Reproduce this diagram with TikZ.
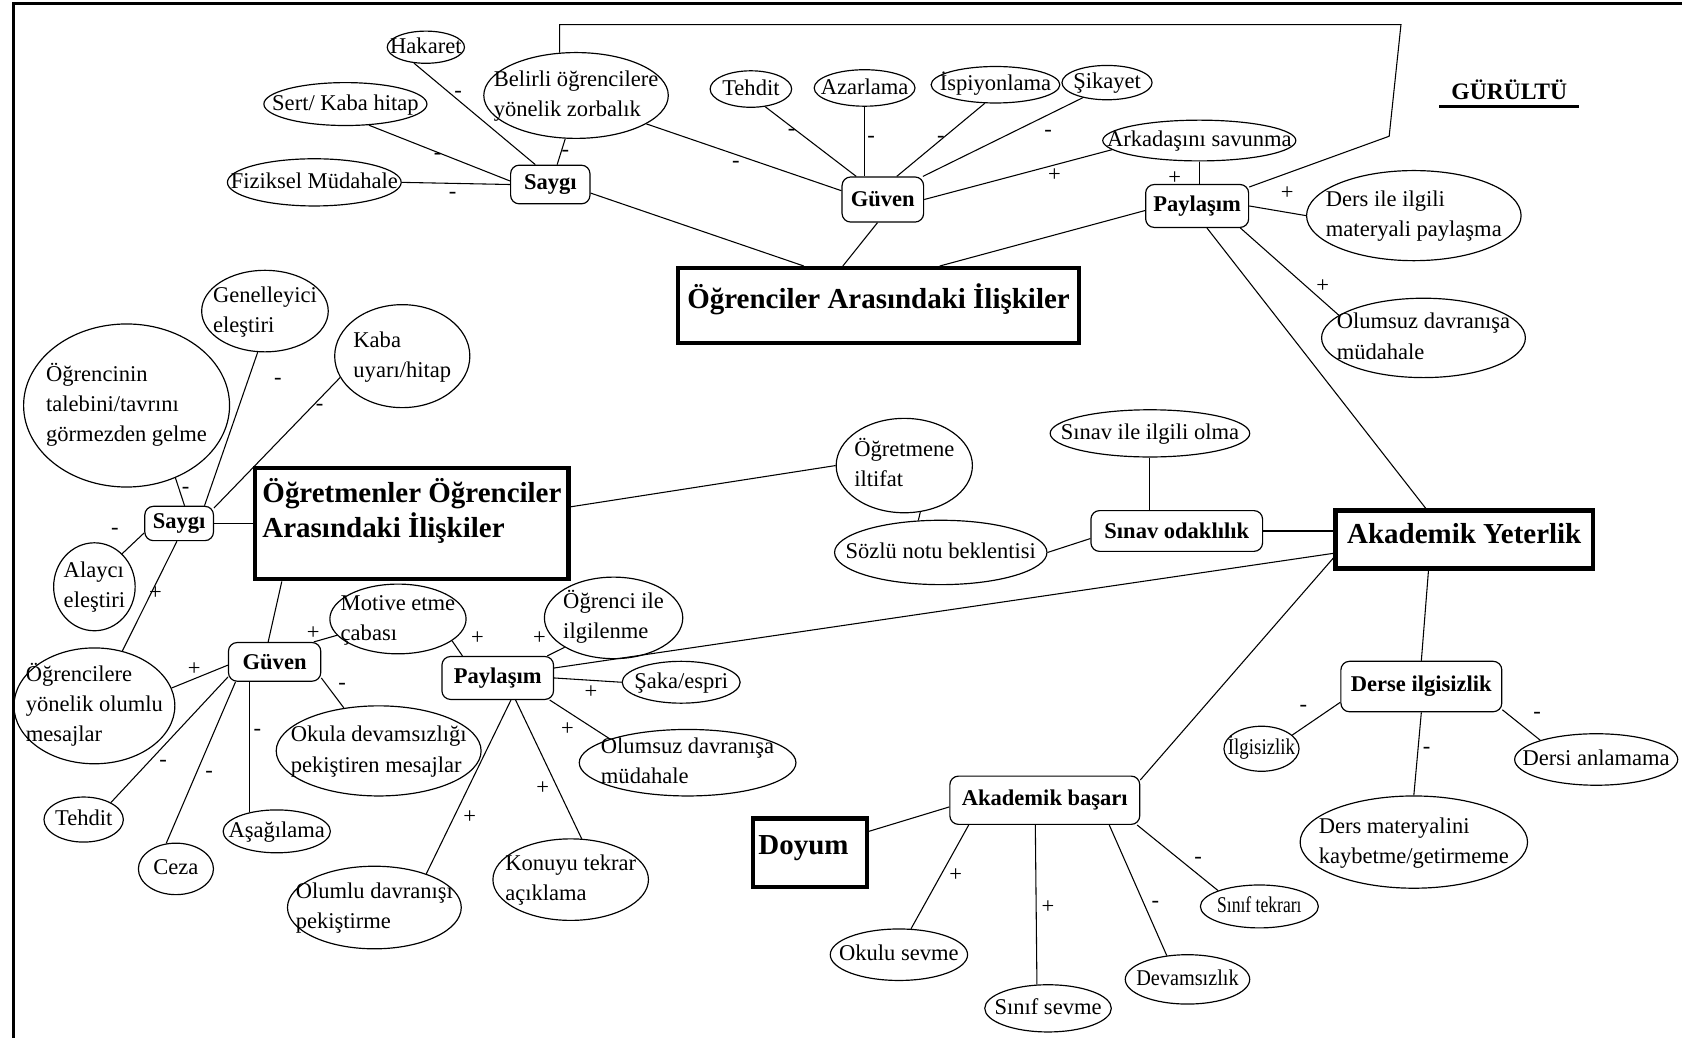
\documentclass[tikz,border=0pt]{standalone}
\usepackage{fontspec}
\setmainfont{Liberation Serif}
\usetikzlibrary{shapes.geometric}
% text of zero size, centred on the node centre (so the shape keeps its given size)
\newcommand\ctxt[2][0pt]{\makebox[0pt]{\smash{\raisebox{\dimexpr#1-0.25em\relax}{\begin{tabular}{@{}l@{}}#2\end{tabular}}}}}
\tikzset{
  oval/.style 2 args={draw, ellipse, line width=1.1pt, inner sep=0pt,
    minimum width=#1, minimum height=#2, font=\fontsize{21}{28}\selectfont},
  rbox/.style 2 args={draw, rectangle, rounded corners=8pt, line width=1.1pt, inner sep=0pt,
    minimum width=#1, minimum height=#2, font=\bfseries\fontsize{21}{26}\selectfont},
  mbox/.style 2 args={draw, rectangle, line width=4pt, inner sep=0pt,
    minimum width=#1, minimum height=#2, font=\bfseries\fontsize{27}{31}\selectfont},
  sign/.style={inner sep=0pt, font=\fontsize{21}{24}\selectfont},
  link/.style={line width=1pt},
}
\begin{document}
\begin{tikzpicture}[x=1pt,y=-1pt]
\useasboundingbox (0,0) rectangle (1568,967);
\fill[white] (0,0) rectangle (1568,967);
% frame
\draw[line width=2.5pt] (12.5,975) -- (12.5,3.5) -- (1575,3.5);

% ---- Ogrenciler Arasindaki Iliskiler ----
\node[mbox={374}{70}] (oai) at (819,285) {\ctxt[5pt]{Öğrenciler Arasındaki İlişkiler}};
\node[oval={72}{30}] (hak) at (397,44) {\ctxt{Hakaret}};
\node[oval={152}{40}] (sert) at (322,97) {\ctxt{Sert/ Kaba hitap}};
\node[oval={162}{44}] (fiz) at (293,170) {\ctxt{Fiziksel Müdahale}};
\node[rbox={74}{36}] (say1) at (513,172) {Saygı};
\node[oval={172}{80}] (bel) at (537,89) {\ctxt{Belirli öğrencilere\\yönelik zorbalık}};
\node[oval={76}{34}] (teh1) at (700,83) {\ctxt{Tehdit}};
\node[oval={94}{34}] (aza) at (806,82) {\ctxt{Azarlama}};
\node[oval={120}{34}] (isp) at (928,79) {\ctxt{İspiyonlama}};
\node[oval={84}{32}] (sik) at (1032,77) {\ctxt{Şikayet}};
\node[rbox={76}{42}] (guv1) at (823,186) {Güven};
\node[oval={180}{38}] (ark) at (1118,131) {\ctxt{Arkadaşını savunma}};
\node[rbox={96}{40}] (pay1) at (1116,192) {Paylaşım};
\node[oval={200}{84}] (ders) at (1318,201) {\ctxt{Ders ile ilgili\\materyali paylaşma}};
\node[oval={190}{74}] (olt) at (1327,315) {\ctxt{Olumsuz davranışa\\müdahale}};
\coordinate (brA) at (1306,23);
\coordinate (brB) at (1295,127);

\node[inner sep=0pt, inner xsep=11pt, font=\bfseries\fontsize{22}{26}\selectfont] (gur) at (1407,84) {GÜRÜLTÜ};
\draw[line width=3pt] ([yshift=-6pt]gur.base west) -- ([yshift=-6pt]gur.base east);

\draw[link] (hak.233) -- (say1.127);
\draw[link] (sert.-42) -- (say1.175);
\draw[link] (fiz.east) -- (say1.west);
\draw[link] (bel.256) -- (say1.71);
\draw[link] (bel.-22) -- (guv1.168);
\draw[link] (bel.111) |- (brA) -- (brB) -- (pay1.20);
\draw[link] (teh1.-51) -- (guv1.139);
\draw[link] (aza.south) -- (aza.south |- guv1.north);
\draw[link] (isp.-120) -- (guv1.59);
\draw[link] (sik.-148) -- (guv1.30);
\draw[link] (ark.-174) -- (guv1.east);
\draw[link] (ark.south) -- (ark.south |- pay1.north);
\draw[link] (guv1.-103) -- (oai.132);
\draw[link] (say1.-12) -- (oai.152);
\draw[link] (pay1.-175) -- (oai.33);
\draw[link] (pay1.east) -- (ders.west);
\draw[link] (pay1.-27) -- (olt.165);

\node[sign] (s1) at (427,88) {-};
\node[sign] (s2) at (408,146) {-};
\node[sign] (s3) at (422,182) {-};
\node[sign] (s4) at (527,143) {-};
\node[sign] (s5) at (686,153) {-};
\node[sign] (s6) at (738,123) {-};
\node[sign] (s7) at (812,130) {-};
\node[sign] (s8) at (877,130) {-};
\node[sign] (s9) at (977,124) {-};
\node[sign] (s10) at (983,163) {+};
\node[sign] (s11) at (1095,166) {+};
\node[sign] (s12) at (1200,180) {+};
\node[sign] (s13) at (1233,267) {+};

% ---- Ogretmenler Ogrenciler Arasindaki Iliskiler ----
\node[mbox={292}{104}] (ooi) at (384,488) {\ctxt[10pt]{Öğretmenler Öğrenciler\\Arasındaki İlişkiler}};
\node[oval={118}{76}] (gen) at (247,290) {\ctxt{Genelleyici\\eleştiri}};
\node[oval={126}{96}] (kaba) at (375,332) {\ctxt{Kaba\\uyarı/hitap}};
\node[oval={192}{152}] (ogt) at (118,378) {\ctxt{Öğrencinin\\talebini/tavrını\\görmezden gelme}};
\node[rbox={64}{32}] (say2) at (167,488) {Saygı};
\node[oval={76}{82}] (ala) at (88,547) {\ctxt{Alaycı\\eleştiri}};
\node[oval={150}{108}] (olm) at (88,658) {\ctxt{Öğrencilere\\yönelik olumlu\\mesajlar}};
\node[rbox={86}{36}] (guv2) at (256,617) {Güven};
\node[oval={74}{42}] (teh2) at (78,764) {\ctxt{Tehdit}};
\node[oval={70}{48}] (ceza) at (164,810) {\ctxt{Ceza}};
\node[oval={100}{40}] (asa) at (258,775) {\ctxt{Aşağılama}};
\node[oval={127}{65}] (mot) at (371,577) {\ctxt{Motive etme\\çabası}};
\node[oval={191}{84}] (okd) at (353,700) {\ctxt{Okula devamsızlığı\\pekiştiren mesajlar}};
\node[rbox={104}{40}] (pay2) at (464,632) {Paylaşım};
\node[oval={129}{76}] (ogi) at (572,576) {\ctxt{Öğrenci ile\\ilgilenme}};
\node[oval={110}{39}] (saka) at (635,636) {\ctxt{Şaka/espri}};
\node[oval={202}{62}] (olm2) at (641,711) {\ctxt{Olumsuz davranışa\\müdahale}};
\node[oval={162}{77}] (olp) at (349,846) {\ctxt{Olumlu davranışı\\pekiştirme}};
\node[oval={145}{76}] (kon) at (532,820) {\ctxt{Konuyu tekrar\\açıklama}};

\draw[link] (gen.-100) -- (say2.35);
\draw[link] (kaba.-161) -- (say2.24);
\draw[link] (ogt.-56) -- (say2.73);
\draw[link] (say2.east) -- (ooi.west);
\draw[link] (ala.50) -- (say2.-165);
\draw[link] (olm.63) -- (say2.-97);
\draw[link] (ooi.-156) -- (guv2.108);
\draw[link] (guv2.27) -- (mot.-165);
\draw[link] (guv2.-176) -- (olm.13);
\draw[link] (guv2.-162) -- (teh2.32);
\draw[link] (guv2.-153) -- (ceza.111);
\draw[link] (guv2.-142) -- (guv2.-142 |- asa.145);
\draw[link] (guv2.-19) -- (okd.129);
\draw[link] (mot.-22) -- (pay2.148);
\draw[link] (ogi.-149) -- (pay2.24);
\draw[link] (pay2.east) -- (saka.west);
\draw[link] (pay2.-23) -- (olm2.163);
\draw[link] (pay2.-51) -- (kon.75);
\draw[link] (pay2.-59) -- (olp.33);

\node[sign] (s14) at (259,356) {-};
\node[sign] (s15) at (298,380) {-};
\node[sign] (s16) at (173,457) {-};
\node[sign] (s17) at (107,495) {-};
\node[sign] (s18) at (145,553) {+};
\node[sign] (s19) at (292,590) {+};
\node[sign] (s20) at (181,624) {+};
\node[sign] (s21) at (152,712) {-};
\node[sign] (s22) at (195,722) {-};
\node[sign] (s23) at (240,683) {-};
\node[sign] (s24) at (319,640) {-};
\node[sign] (s25) at (445,595) {+};
\node[sign] (s26) at (503,595) {+};
\node[sign] (s27) at (551,645) {+};
\node[sign] (s28) at (529,680) {+};
\node[sign] (s29) at (506,735) {+};
\node[sign] (s30) at (438,762) {+};

% ---- Akademik Yeterlik ----
\node[mbox={240}{54}] (ay) at (1365,503) {\ctxt[3pt]{Akademik Yeterlik}};
\node[oval={127}{88}] (oi) at (843,434) {\ctxt{Öğretmene\\iltifat}};
\node[oval={198}{60}] (soz) at (877,515) {\ctxt{Sözlü notu beklentisi}};
\node[oval={186}{44}] (sio) at (1072,404) {\ctxt{Sınav ile ilgili olma}};
\node[rbox={160}{38}] (so) at (1097,495) {Sınav odaklılık};
\node[rbox={150}{47}] (derse) at (1325,640) {Derse ilgisizlik};
\node[oval={70}{42}] (ilg) at (1176,698) {\ctxt{\scalebox{0.84}[1]{İlgisizlik}}};
\node[oval={152}{48}] (dan) at (1488,708) {\ctxt{Dersi anlamama}};
\node[oval={212}{86}] (dm) at (1318,785) {\ctxt{Ders materyalini\\kaybetme/getirmeme}};
\node[rbox={177}{45}] (ab) at (974,746) {Akademik başarı};
\node[mbox={106}{64}] (doy) at (755,795) {\ctxt[5pt]{Doyum\hspace*{12pt}}};
\node[oval={128}{48}] (ok) at (838,890) {\ctxt{Okulu sevme}};
\node[oval={118}{44}] (ss) at (977,940) {\ctxt{Sınıf sevme}};
\node[oval={116}{46}] (dev) at (1107,913) {\ctxt{\scalebox{0.9}[1]{Devamsızlık}}};
\node[oval={110}{40}] (st) at (1174,845) {\ctxt{\scalebox{0.78}[1]{Sınıf tekrarı}}};

\draw[link] (pay1.-66) -- (ay.141);
\draw[link] (ooi.6) -- (oi.west);
\draw[link] (pay2.10) -- (ay.-174);
\draw[link] (oi.-71) -- (soz.125);
\draw[link] (soz.east) -- (so.-175);
\draw[link] (sio.south) -- (sio.south |- so.north);
\draw[link] (so.east) -- (so.east -| ay.west);
\draw[link] (ay.-139) -- (derse.north);
\draw[link] (ay.-172) -- (ab.12);
\draw[link] (derse.-169) -- (ilg.24);
\draw[link] (derse.-16) -- (dan.161);
\draw[link] (derse.south) -- (dm.north);
\draw[link] (ab.-176) -- (doy.20);
\draw[link] (ab.-162) -- (ok.65);
\draw[link] (ab.-111) -- (ss.115);
\draw[link] (ab.-21) -- (dev.131);
\draw[link] (ab.-15) -- (st.159);

\node[sign] (s31) at (1215,660) {-};
\node[sign] (s32) at (1433,667) {-};
\node[sign] (s33) at (1330,700) {-};
\node[sign] (s34) at (891,816) {+};
\node[sign] (s35) at (977,846) {+};
\node[sign] (s36) at (1077,843) {-};
\node[sign] (s37) at (1117,802) {-};
\end{tikzpicture}
\end{document}
